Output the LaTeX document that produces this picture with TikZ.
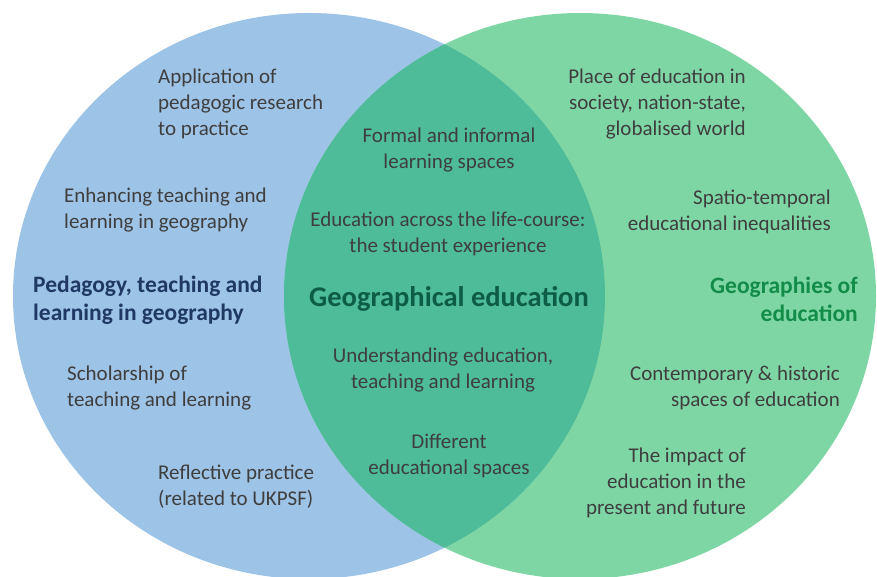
\documentclass[tikz,border=0pt]{standalone}
\usepackage{fontspec}
\setmainfont{Carlito}
\usepackage{xcolor}
\usepackage{tikz}

\definecolor{pedblue}{RGB}{157,195,230}
\definecolor{geogreen}{RGB}{127,214,165}
\definecolor{lensgreen}{RGB}{78,187,153}
\definecolor{txtgray}{RGB}{62,62,62}
\definecolor{navy}{RGB}{31,56,100}
\definecolor{titlegreen}{RGB}{18,140,72}
\definecolor{tealdark}{RGB}{12,92,70}

\begin{document}
\begin{tikzpicture}[
    x=1pt, y=-1pt,
    body/.style={inner sep=0pt, text=txtgray, font=\fontsize{21}{26}\selectfont},
    lbody/.style={body, align=left, anchor=west},
    rbody/.style={body, align=right, anchor=east},
    cbody/.style={body, align=center},
    title/.style={inner sep=0pt, font=\fontsize{23.5}{28}\selectfont\bfseries}
]
\useasboundingbox (0,0) rectangle (877,577);

% The two sets
\fill[pedblue] (309,296) ellipse [x radius=296, y radius=283];
\fill[geogreen] (580,296) ellipse [x radius=296, y radius=283];
\begin{scope}
  \clip (309,296) ellipse [x radius=296, y radius=283];
  \fill[lensgreen] (580,296) ellipse [x radius=296, y radius=283];
\end{scope}

% Left set
\node[lbody] (app) at (158,104) {Application of\\pedagogic research\\to practice};
\node[lbody] (enh) at (64,210) {Enhancing teaching and\\learning in geography};
\node[title, text=navy, align=left, anchor=west] (ped) at (33,300) {Pedagogy, teaching and\\learning in geography};
\node[lbody] (sch) at (67,388) {Scholarship of\\teaching and learning};
\node[lbody] (ref) at (158,487) {Reflective practice\\(related to UKPSF)};

% Overlap
\node[cbody] (formal) at (449,150) {Formal and informal\\learning spaces};
\node[cbody] (life) at (448,234) {Education across the life-course:\\the student experience};
\node[title, text=tealdark, font=\fontsize{28.5}{32}\selectfont\bfseries] (geoed) at (449,299) {Geographical education};
\node[cbody] (und) at (443,370) {Understanding education,\\teaching and learning};
\node[cbody] (diff) at (449,456) {Different\\educational spaces};

% Right set
\node[rbody] (place) at (746,104) {Place of education in\\society, nation-state,\\globalised world};
\node[rbody] (spat) at (831,212) {Spatio-temporal\\educational inequalities};
\node[title, text=titlegreen, align=right, anchor=east] (geogs) at (858,299) {Geographies of\\education};
\node[rbody] (cont) at (840,388) {Contemporary \& historic\\spaces of education};
\node[rbody] (imp) at (746,483) {The impact of\\education in the\\present and future};

\end{tikzpicture}
\end{document}
